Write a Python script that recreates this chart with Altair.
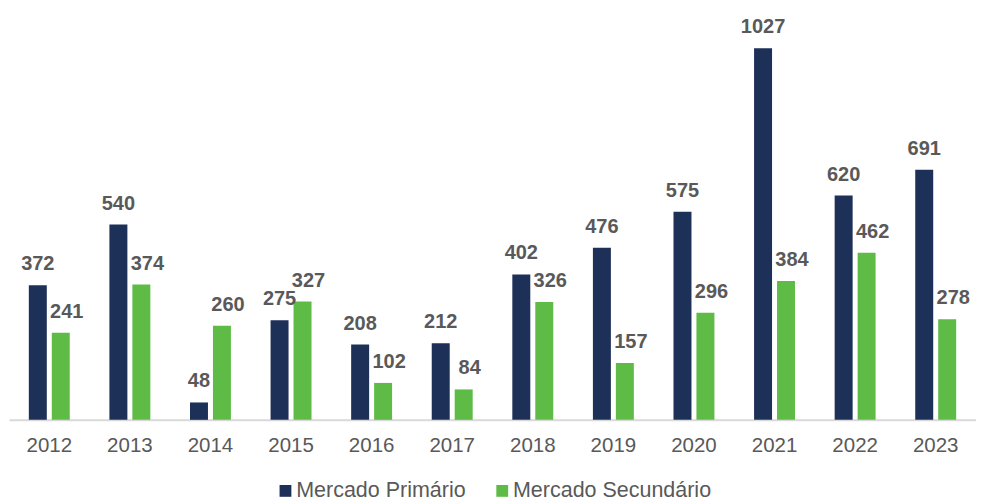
import altair as alt
import pandas as pd

years = ["2012", "2013", "2014", "2015", "2016", "2017", "2018", "2019", "2020", "2021", "2022", "2023"]
primario = [372, 540, 48, 275, 208, 212, 402, 476, 575, 1027, 620, 691]
secundario = [241, 374, 260, 327, 102, 84, 326, 157, 296, 384, 462, 278]
series = ["Mercado Primário", "Mercado Secundário"]
colors = ["#1d3058", "#5dbb46"]

rows = []
for y, p, s in zip(years, primario, secundario):
    rows.append({"ano": y, "serie": series[0], "valor": p})
    rows.append({"ano": y, "serie": series[1], "valor": s})
df = pd.DataFrame(rows)

FONT = "Liberation Sans"

x_enc = alt.X("ano:N", sort=years, title=None,
              scale=alt.Scale(paddingInner=0.492, paddingOuter=0.246),
              axis=alt.Axis(labelAngle=0, labelFont=FONT, labelFontSize=20.5,
                            labelColor="#595959", ticks=False, labelPadding=16,
                            domainColor="#d9d9d9", domainWidth=2))
xo_enc = alt.XOffset("serie:N", sort=series,
                     scale=alt.Scale(paddingInner=0.217, paddingOuter=0))
y_enc = alt.Y("valor:Q", scale=alt.Scale(domain=[0, 1135], nice=False), axis=None)

bars = alt.Chart(df).mark_bar().encode(
    x=x_enc, xOffset=xo_enc, y=y_enc,
    color=alt.Color("serie:N", sort=series,
                    scale=alt.Scale(domain=series, range=colors),
                    legend=alt.Legend(title=None, orient="none", direction="horizontal",
                                      legendX=266, legendY=471,
                                      symbolType="square", symbolSize=140,
                                      symbolStrokeWidth=0,
                                      labelFont=FONT, labelFontSize=21.5,
                                      labelColor="#595959", columnPadding=25,
                                      labelOffset=0, labelLimit=400, padding=0)),
)

def labels(name, dx):
    return alt.Chart(df).transform_filter(alt.datum.serie == name).mark_text(
        font=FONT, fontSize=20, fontWeight="bold", color="#595959",
        baseline="alphabetic", dy=-15, dx=dx,
    ).encode(x=x_enc, xOffset=xo_enc, y=y_enc, text="valor:Q")

chart = alt.layer(bars, labels(series[0], 0), labels(series[1], 6)).properties(
    width=968, height=411,
    padding={"left": 1, "top": 1, "right": 0, "bottom": 0},
).configure_view(stroke=None)

chart.save("out.html", embed_options={"renderer": "svg", "actions": False})
